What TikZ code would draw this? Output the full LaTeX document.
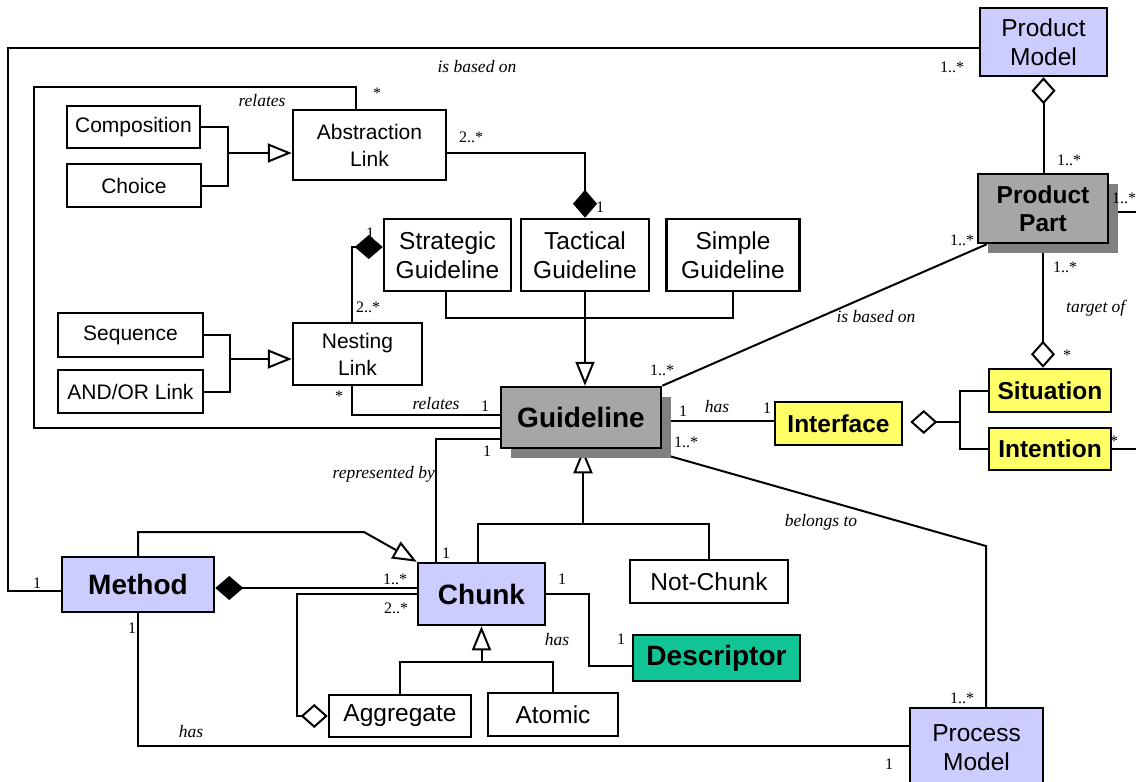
\documentclass[tikz,border=0pt]{standalone}
\usepackage{fontspec}
\setmainfont{Liberation Serif}
\newfontfamily\boxfont{Liberation Sans}
\usetikzlibrary{arrows.meta,shadows,backgrounds}

\definecolor{lavender}{RGB}{204,204,255}
\definecolor{boxgray}{RGB}{166,166,166}
\definecolor{shadowgray}{RGB}{128,128,128}
\definecolor{hiyellow}{RGB}{255,255,102}
\definecolor{descgreen}{RGB}{17,196,149}

\tikzset{
  cls/.style={draw=black, line width=2.5pt, inner sep=0pt, align=center, fill=white},
  sz/.style 2 args={minimum width=#1pt, minimum height=#2pt},
  small/.style={font=\boxfont\fontsize{21}{27}\selectfont},
  mid/.style={font=\boxfont\fontsize{24.5}{28.5}\selectfont},
  midb/.style={font=\boxfont\bfseries\fontsize{24.5}{28.5}\selectfont},
  big/.style={font=\boxfont\bfseries\fontsize{28}{32}\selectfont},
  shadowed/.style={drop shadow={shadow xshift=10pt, shadow yshift=-10pt, fill=shadowgray, draw=none, opacity=1}},
  lab/.style={font=\itshape\fontsize{17.5}{20}\selectfont, inner sep=0pt},
  mult/.style={font=\fontsize{16}{18}\selectfont, inner sep=0pt},
  link/.style={line width=2pt, line join=miter},
  gen/.style={-{Triangle[length=24pt, width=19pt, fill=white]}},
  compos/.style={{Diamond[length=28pt, width=24pt]}-},
  compof/.style={-{Diamond[length=28pt, width=24pt]}},
  aggs/.style={{Diamond[length=27pt, width=24pt, fill=white]}-},
  aggf/.style={-{Diamond[length=27pt, width=24pt, fill=white]}},
}

\begin{document}
\begin{tikzpicture}[x=1pt, y=-1pt]
\useasboundingbox (0,0) rectangle (1136,782);

% classes
\node[cls,mid,fill=lavender,sz={127}{68}] (pm) at (1043.5,42) {Product\\Model};
\node[cls,midb,fill=boxgray,sz={130}{69},shadowed] (pp) at (1043,208.5) {Product\\Part};
\node[cls,small,sz={133}{42}] (comp) at (133.5,127) {Composition};
\node[cls,small,sz={134}{43}] (choice) at (134,185.5) {Choice};
\node[cls,small,sz={153}{70}] (abs) at (369.5,145) {Abstraction\\Link};
\node[cls,mid,sz={127}{72}] (strat) at (447.5,255) {Strategic\\Guideline};
\node[cls,mid,sz={128}{72}] (tact) at (585,255) {Tactical\\Guideline};
\node[cls,mid,sz={133}{72}] (simple) at (733,255) {Simple\\Guideline};
\node[cls,small,sz={145}{44}] (seq) at (130.5,335) {Sequence};
\node[cls,small,sz={145}{43}] (andor) at (130.5,391.5) {AND/OR Link};
\node[cls,small,sz={129}{62}] (nest) at (357.5,354) {Nesting\\Link};
\node[cls,big,fill=boxgray,sz={160}{61},shadowed] (guide) at (581,417.5) {Guideline};
\node[cls,midb,fill=hiyellow,sz={127}{43}] (iface) at (838.5,423.5) {Interface};
\node[cls,midb,fill=hiyellow,sz={122}{43}] (sit) at (1050,390.5) {Situation};
\node[cls,midb,fill=hiyellow,sz={122}{42}] (intent) at (1050,449) {Intention};
\node[cls,big,fill=lavender,sz={152}{55}] (method) at (138,584.5) {Method};
\node[cls,big,fill=lavender,sz={127}{62}] (chunk) at (481.5,594) {Chunk};
\node[cls,mid,sz={158}{43}] (notchunk) at (709,581.5) {Not-Chunk};
\node[cls,big,fill=descgreen,sz={167}{46}] (desc) at (716.5,658) {Descriptor};
\node[cls,mid,sz={142}{42}] (aggr) at (400,716) {Aggregate};
\node[cls,mid,sz={130}{43}] (atomic) at (553,714.5) {Atomic};
\node[cls,mid,fill=lavender,sz={133}{79}] (procm) at (976.5,747.5) {Process\\Model};

% associations, generalisations and aggregations
\begin{scope}[on background layer, link]
  % method is based on product model
  \draw[link] (pm.west |- 0,48) -- (8,48) -- (8,591) -- (method.west |- 0,591);
  % abstraction link relates guidelines
  \draw[link] (abs.north -| 356,0) -- (356,87) -- (34,87) -- (34,428) -- (guide.west |- 0,428);
  % kinds of abstraction link
  \draw[link] (comp.east) -- (228,127) -- (228,185.5) -- (choice.east);
  \draw[link,gen] (228,153) -- (abs.west |- 0,153);
  % abstraction link composes tactical guideline
  \draw[link,compof] (abs.east |- 0,153) -| (tact.north);
  % nesting link composes strategic guideline
  \draw[link,compof] (nest.north -| 352,0) |- (strat.west |- 0,247);
  % kinds of nesting link
  \draw[link] (seq.east) -- (230,335) -- (230,391.5) -- (andor.east);
  \draw[link,gen] (230,359) -- (nest.west |- 0,359);
  % nesting link relates guidelines
  \draw[link] (nest.south -| 352,0) |- (guide.west |- 0,415);
  % kinds of guideline
  \draw[link] (strat.south -| 446,0) |- (simple.south |- 0,318) -- (simple.south);
  \draw[link,gen] (tact.south) -- (tact.south |- guide.north);
  % guideline is based on product part
  \draw[link] (guide.north east) -- ([xshift=10pt]pp.south west);
  % product model aggregates product parts
  \draw[link,aggs] (pm.south) -- (pm.south |- pp.north);
  % product part is target of situation
  \draw[link,aggf] (pp.south) -- (pp.south |- sit.north);
  \draw[link] (pp.east |- 0,212) -- (1136,212);
  % guideline has interface
  \draw[link] (guide.east |- 0,421) -- (iface.west |- 0,421);
  \draw[link,aggs] ([xshift=7pt]iface.east |- 0,422) -- (960,422);
  \draw[link] (sit.west) -| (960,449) -- (intent.west);
  \draw[link] (intent.east) -- (1136,449);
  % guideline belongs to process model
  \draw[link] (guide.east |- 0,454) -- (986,546) -- (procm.north -| 986,0);
  % guideline represented by chunk
  \draw[link] (guide.west |- 0,439) -| (chunk.north -| 436,0);
  % chunk and not-chunk specialise guideline
  \draw[link] (chunk.north -| 478,0) |- (notchunk.north |- 0,524) -- (notchunk.north);
  \draw[link,gen] (583,524) -- (guide.south -| 583,0);
  % method specialises chunk
  \draw[link,gen] (method.north) -- (138,532) -- (364,532) -- (chunk.north west);
  % method is composed of chunks
  \draw[link,compos] (method.east |- 0,588) -- (chunk.west |- 0,588);
  % aggregate chunk
  \draw[link,aggf] (chunk.west |- 0,594) -- (297,594) -- (297,716) -- (aggr.west);
  % kinds of chunk
  \draw[link] (aggr.north) -- (400,662) -| (atomic.north);
  \draw[link,gen] (chunk.south |- 0,662) -- (chunk.south);
  % chunk has descriptor
  \draw[link] (chunk.east) -- (589,594) |- (desc.west |- 0,666);
  % method has process model
  \draw[link] (method.south) -- (138,746) -- (procm.west |- 0,746);
\end{scope}

% role names
\node[lab] (r1) at (477,67) {is based on};
\node[lab] (r2) at (262,101) {relates};
\node[lab] (r3) at (436,404) {relates};
\node[lab] (r4) at (876,317) {is based on};
\node[lab,anchor=west] (r5) at (1066,308) {target of};
\node[lab] (r6) at (717,407) {has};
\node[lab,anchor=east] (r7) at (435,474) {represented by};
\node[lab] (r8) at (821,522) {belongs to};
\node[lab] (r9) at (557,640) {has};
\node[lab] (r10) at (191,732) {has};

% multiplicities
\node[mult] (m1) at (952,67) {1..*};
\node[mult] (m2) at (377,93) {*};
\node[mult] (m3) at (471,137) {2..*};
\node[mult] (m4) at (600,207) {1};
\node[mult] (m5) at (1069,160) {1..*};
\node[mult,anchor=west] (m6) at (1112,198) {1..*};
\node[mult] (m7) at (962,240) {1..*};
\node[mult] (m8) at (1065,267) {1..*};
\node[mult] (m9) at (1067,355) {*};
\node[mult] (m10) at (370,233) {1};
\node[mult] (m11) at (368,307) {2..*};
\node[mult] (m12) at (662,370) {1..*};
\node[mult] (m13) at (339,396) {*};
\node[mult] (m14) at (485,406) {1};
\node[mult] (m15) at (683,411) {1};
\node[mult] (m16) at (767,408) {1};
\node[mult] (m17) at (686,442) {1..*};
\node[mult] (m18) at (1114,441) {*};
\node[mult] (m19) at (487,451) {1};
\node[mult] (m20) at (446,553) {1};
\node[mult] (m21) at (37,583) {1};
\node[mult] (m22) at (395,579) {1..*};
\node[mult] (m23) at (396,608) {2..*};
\node[mult] (m24) at (132,628) {1};
\node[mult] (m25) at (562,579) {1};
\node[mult] (m26) at (621,639) {1};
\node[mult] (m27) at (962,698) {1..*};
\node[mult] (m28) at (889,764) {1};
\end{tikzpicture}
\end{document}
